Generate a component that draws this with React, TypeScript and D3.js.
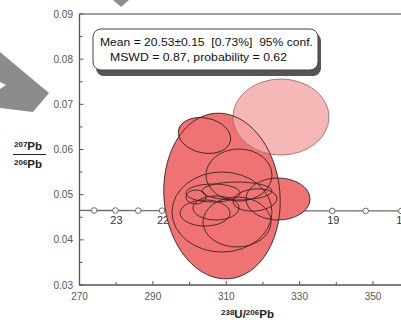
import React from "react";
import { scaleLinear, range } from "d3";

// axis ticks
const xTicks = [270, 290, 310, 330, 350];
const yTicks = [0.03, 0.04, 0.05, 0.06, 0.07, 0.08, 0.09];

// concordia curve (Ma)
const concordiaAges = [24, 23.5, 23, 22.5, 22, 21.5, 21, 20.5, 20, 19.5, 19, 18.5, 18, 17.5];
const concordiaX = [268.1, 274.0, 279.8, 286.0, 292.5, 299.3, 306.4, 313.9, 321.9, 330.1, 338.9, 348.0, 357.7, 368.0];
const concordiaY = [0.04651, 0.0465, 0.04649, 0.04648, 0.04647, 0.04646, 0.04645, 0.04644, 0.04643, 0.04642, 0.04641, 0.0464, 0.04639, 0.04638];

// error ellipses: centre, semi-axes (data units), tilt (deg)
const ellX = [308.84, 308.84, 313.47, 304.07, 312.93, 324.1, 312.93, 306.39, 301.75, 317.83, 307.2, 304.21];
const ellY = [0.0497, 0.04616, 0.05435, 0.0631, 0.04395, 0.04904, 0.05081, 0.05037, 0.04948, 0.04882, 0.04705, 0.04594];
const ellRx = [15.81, 13.63, 8.99, 7.22, 9.27, 8.72, 9.54, 7.36, 2.73, 6.0, 6.27, 6.81];
const ellRy = [0.01838, 0.00886, 0.00576, 0.00387, 0.00553, 0.00465, 0.00199, 0.00199, 0.00155, 0.00244, 0.00266, 0.00288];
const ellTilt = [-5, 0, 0, 12, 0, 0, 0, 0, 0, -5, 0, 0];

// the excluded (pale) analysis
const outlier = { x: 324.92, y: 0.06719, rx: 13.08, ry: 0.00841 };

const meanText = "Mean = 20.53\u00b10.15  [0.73%]  95% conf.";
const mswdText = "MSWD = 0.87, probability = 0.62";

const App = () => {
  const width = 401;
  const height = 322;
  const x = scaleLinear().domain([270, 360]).range([79.5, 409.7]);
  const y = scaleLinear().domain([0.03, 0.09]).range([285, 14]);
  const x0 = x(270);
  const y0 = y(0.03);

  const ellipses = ellX.map((cx, i) => ({
    cx: x(cx),
    cy: y(ellY[i]),
    rx: x(cx + ellRx[i]) - x(cx),
    ry: y(ellY[i]) - y(ellY[i] + ellRy[i]),
    tilt: ellTilt[i],
  }));
  const pale = {
    cx: x(outlier.x),
    cy: y(outlier.y),
    rx: x(outlier.x + outlier.rx) - x(outlier.x),
    ry: y(outlier.y) - y(outlier.y + outlier.ry),
  };

  const xMinor = range(280, 361, 20);
  const yMinor = range(0.035, 0.09, 0.01);
  const font = "'Liberation Sans', Arial, sans-serif";

  const linePts = concordiaX.map((v, i) => `${x(v)},${y(concordiaY[i])}`).join(" ");

  return (
    <svg
      width={width}
      height={height}
      style={{ position: "absolute", left: 0, top: 0, background: "#fff" }}
      fontFamily={font}
    >
      <defs>
        <clipPath id="plot">
          <rect x={x0} y={y(0.09)} width={width - x0} height={y0 - y(0.09)} />
        </clipPath>
      </defs>

      {/* grey arrows from the original figure */}
      <polygon points="0,52 49,93 33,112 0,108" fill="#8c8c8c" />
      <polygon points="0,82 6,85 0,89" fill="#fff" />
      <polygon points="113,0 129,0 121,7" fill="#8c8c8c" />

      {/* concordia */}
      <g clipPath="url(#plot)">
        <polyline points={linePts} fill="none" stroke="#6a6a6a" strokeWidth={1.3} />
        {concordiaAges.map((a, i) => (
          <circle key={a} cx={x(concordiaX[i])} cy={y(concordiaY[i])} r={2.8} fill="#fff" stroke="#6a6a6a" strokeWidth={1} />
        ))}
        {concordiaAges.filter((a) => Number.isInteger(a)).map((a) => {
          const i = concordiaAges.indexOf(a);
          return (
            <text key={a} x={x(concordiaX[i]) + 1} y={y(concordiaY[i]) + 13} fontSize={11} textAnchor="middle" fill="#333">
              {a}
            </text>
          );
        })}
      </g>

      {/* ellipses: fills, pale one, then outlines */}
      <g clipPath="url(#plot)">
        {ellipses.map((e, i) => (
          <ellipse key={i} cx={e.cx} cy={e.cy} rx={e.rx} ry={e.ry} transform={`rotate(${e.tilt} ${e.cx} ${e.cy})`} fill="#ee7372" />
        ))}
        <ellipse cx={pale.cx} cy={pale.cy} rx={pale.rx} ry={pale.ry} fill="#f5aba9" fillOpacity={0.85} stroke="#a87a78" strokeWidth={1} />
        {ellipses.map((e, i) => (
          <ellipse key={i} cx={e.cx} cy={e.cy} rx={e.rx} ry={e.ry} transform={`rotate(${e.tilt} ${e.cx} ${e.cy})`} fill="none" stroke="#3a2424" strokeWidth={0.9} />
        ))}
      </g>

      {/* frame + axes */}
      <line x1={x0} x2={width} y1={y(0.09)} y2={y(0.09)} stroke="#808080" strokeWidth={1.6} />
      <line x1={x0} x2={x0} y1={y(0.09)} y2={y0 + 0.5} stroke="#555" strokeWidth={1.3} />
      <line x1={x0} x2={width} y1={y0} y2={y0} stroke="#555" strokeWidth={1.3} />

      {yTicks.map((t) => (
        <g key={t}>
          <line x1={x0} x2={x0 + 4} y1={y(t)} y2={y(t)} stroke="#555" />
          <text x={73} y={y(t) + 3.5} fontSize={10} textAnchor="end" fill="#555">
            {t.toFixed(2)}
          </text>
        </g>
      ))}
      {yMinor.map((t) => (
        <line key={t} x1={x0} x2={x0 + 3} y1={y(t)} y2={y(t)} stroke="#555" />
      ))}
      {xTicks.map((t) => (
        <g key={t}>
          <line x1={x(t)} x2={x(t)} y1={y0} y2={y0 - 4} stroke="#555" />
          <text x={x(t)} y={300} fontSize={10} textAnchor="middle" fill="#555">
            {t}
          </text>
        </g>
      ))}
      {xMinor.map((t) => (
        <line key={t} x1={x(t)} x2={x(t)} y1={y0} y2={y0 - 3} stroke="#555" />
      ))}

      {/* axis titles */}
      <text x={221} y={318} fontSize={11.5} fontWeight="bold" fill="#222">
        <tspan fontSize={8} dy={-3}>238</tspan>
        <tspan dy={3}>U/</tspan>
        <tspan fontSize={8} dy={-3}>206</tspan>
        <tspan dy={3}>Pb</tspan>
      </text>
      <text x={14} y={150} fontSize={11.5} fontWeight="bold" fill="#222">
        <tspan fontSize={8} dy={-3}>207</tspan>
        <tspan dy={3}>Pb</tspan>
      </text>
      <line x1={13} x2={46} y1={154.5} y2={154.5} stroke="#222" strokeWidth={1} />
      <text x={14} y={168} fontSize={11.5} fontWeight="bold" fill="#222">
        <tspan fontSize={8} dy={-3}>206</tspan>
        <tspan dy={3}>Pb</tspan>
      </text>

      {/* result box */}
      <rect x={96} y={33} width={225} height={43} rx={8} fill="#555" />
      <rect x={93} y={29} width={225} height={41} rx={8} fill="#fff" stroke="#444" strokeWidth={1} />
      <text x={100} y={45.5} fontSize={11.5} fill="#111" textLength={213} lengthAdjust="spacingAndGlyphs" xmlSpace="preserve">
        {meanText}
      </text>
      <text x={110} y={61} fontSize={11.5} fill="#111" textLength={177} lengthAdjust="spacingAndGlyphs">
        {mswdText}
      </text>
    </svg>
  );
};

export default App;
